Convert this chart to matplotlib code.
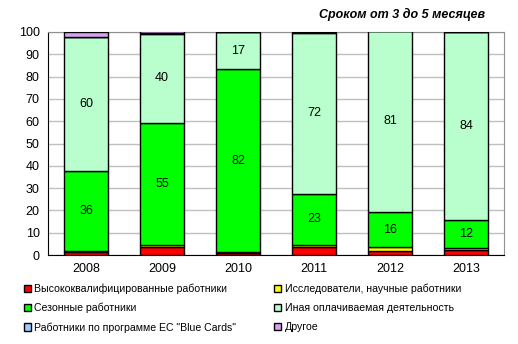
"""Stacked bars: work permits by category, term 3 to 5 months."""

import numpy as np
import matplotlib.pyplot as plt

plt.rcParams['font.family'] = ['Liberation Sans', 'DejaVu Sans']

years = ["2008", "2009", "2010", "2011", "2012", "2013"]

high_skilled = [1.2, 3.4, 1.0, 3.7, 1.9, 2.4]
researchers = [0.4, 0.9, 0.2, 0.8, 1.5, 0.9]
seasonal = [36, 55, 82, 23, 16, 12.4]
other_paid = [60, 40, 17, 72, 81, 84.3]
blue_cards = [0.2, 0.1, 0.0, 0.3, 0.0, 0.0]
other = [2.0, 0.9, 0.0, 0.2, 0.0, 0.0]

series = [
    ("Высококвалифицированные работники", high_skilled, "#FF0000"),
    ("Исследователи, научные работники", researchers, "#FFFF00"),
    ("Сезонные работники", seasonal, "#00FF00"),
    ("Иная оплачиваемая деятельность", other_paid, "#B9FFCD"),
    ("Работники по программе ЕС \"Blue Cards\"", blue_cards, "#99CCFF"),
    ("Другое", other, "#D8A0F0"),
]
labelled = {"Сезонные работники", "Иная оплачиваемая деятельность"}


def main():
    fig = plt.figure(figsize=(5.18, 3.44), dpi=100)
    ax = fig.add_axes([48 / 518, 1 - 255 / 344, 456 / 518, 223 / 344])

    x = np.arange(len(years))
    bottom = np.zeros(len(years))
    handles = {}
    for name, vals, color in series:
        vals = np.array(vals, dtype=float)
        bars = ax.bar(x, vals, bottom=bottom, width=0.59, color=color,
                      edgecolor="black", linewidth=1.0, zorder=3)
        handles[name] = bars
        if name in labelled:
            for xi, b, v in zip(x, bottom, vals):
                ax.text(xi, b + v / 2, f"{v:.0f}", ha="center", va="center",
                        fontsize=9, zorder=4)
        bottom += vals

    ax.set_xlim(-0.5, len(years) - 0.5)
    ax.set_ylim(0, 100)
    ax.set_yticks(range(0, 101, 10))
    ax.set_xticks(x)
    ax.set_xticklabels(years)
    ax.tick_params(labelsize=9, length=0, pad=6)
    ax.yaxis.grid(True, color="#C0C0C0", linewidth=1.0, zorder=0)
    for side in ("left", "bottom"):
        ax.spines[side].set_color("black")
    for side in ("right", "top"):
        ax.spines[side].set_color("#909090")

    ax.set_title("Сроком от 3 до 5 месяцев", fontsize=9, fontweight="bold",
                 style="italic", x=0.776, y=1.025)

    order = [series[i][0] for i in (0, 2, 4, 1, 3, 5)]
    fig.legend([handles[n] for n in order], order, ncol=2,
               loc="upper left", bbox_to_anchor=(14 / 518, 1 - 274 / 344),
               frameon=False, fontsize=7.6, handlelength=0.7, handleheight=0.7,
               handletextpad=0.3, columnspacing=3.6, labelspacing=0.85)

    fig.savefig("out.png", dpi=100)


if __name__ == "__main__":
    main()
